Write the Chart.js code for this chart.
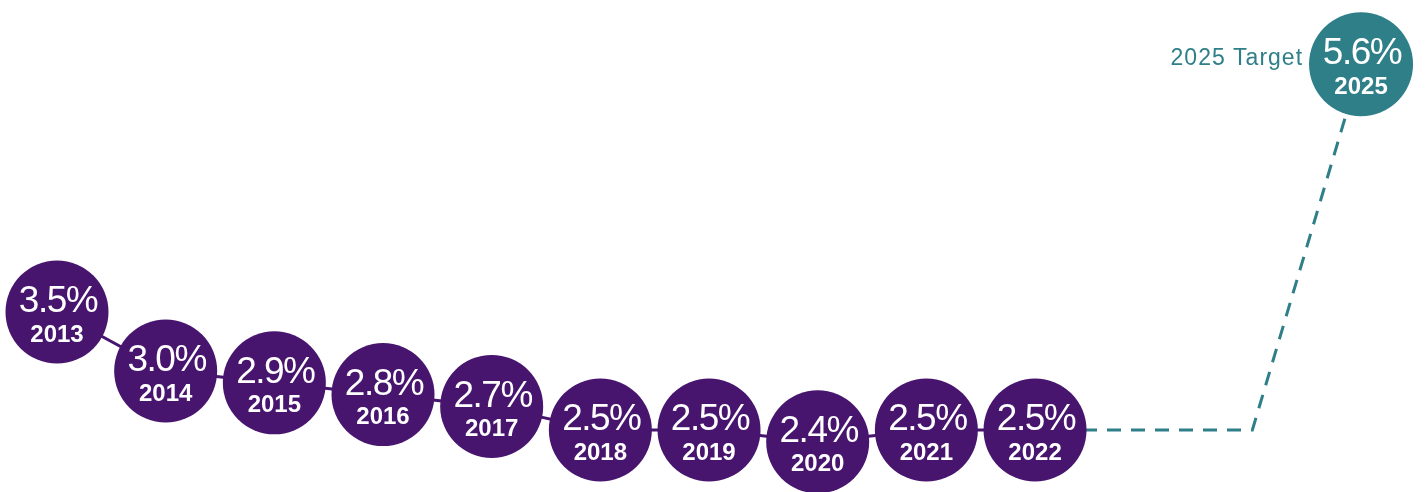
<!DOCTYPE html>
<html>
<head>
<meta charset="utf-8">
<script src="https://cdn.jsdelivr.net/npm/chart.js@4"></script>
<style>
  html, body { margin: 0; padding: 0; background: #ffffff; overflow: hidden; }
  #wrap { width: 1426px; height: 492px; position: relative; }
  #c { width: 1426px; height: 492px; display: block; }
</style>
</head>
<body>
<div id="wrap"><canvas id="c" width="1426" height="492"></canvas></div>
<script>
// ---- data ----
const years = [2013, 2014, 2015, 2016, 2017, 2018, 2019, 2020, 2021, 2022];
const shares = [3.5, 3.0, 2.9, 2.8, 2.7, 2.5, 2.5, 2.4, 2.5, 2.5];
const targetYear = 2025;
const targetShare = 5.6;
const targetLabel = '2025 Target';
// path of the dashed projection line: last actual -> corner -> target
const targetPathYears = [2022, 2024, 2025];
const targetPathShares = [2.5, 2.5, 5.6];

const PURPLE = '#47146e';
const TEAL = '#2f7f89';

const actualPts = years.map((y, i) => ({ x: y, y: shares[i] }));
const pathPts = targetPathYears.map((y, i) => ({ x: y, y: targetPathShares[i] }));
const targetPts = [{ x: targetYear, y: targetShare }];

const labelPlugin = {
  id: 'bubbleLabels',
  afterDatasetsDraw(chart) {
    const ctx = chart.ctx;
    ctx.save();
    ctx.textAlign = 'center';
    ctx.textBaseline = 'middle';
    ctx.fillStyle = '#ffffff';
    const drawBubble = (pt, share, year) => {
      ctx.font = '400 37px "Liberation Sans", Arial, sans-serif';
      ctx.letterSpacing = '-1.5px';
      ctx.fillText(share.toFixed(1) + '%', pt.x + 1, pt.y - 10);
      ctx.font = '700 24px "Liberation Sans", Arial, sans-serif';
      ctx.letterSpacing = '0px';
      ctx.fillText(String(year), pt.x, pt.y + 23);
    };
    const m0 = chart.getDatasetMeta(1);
    m0.data.forEach((el, i) => drawBubble(el, shares[i], years[i]));
    const m2 = chart.getDatasetMeta(2);
    const tp = m2.data[0];
    ctx.fillStyle = '#ffffff';
    drawBubble(tp, targetShare, targetYear);
    ctx.fillStyle = TEAL;
    ctx.textAlign = 'right';
    ctx.font = '400 23px "Liberation Sans", Arial, sans-serif';
    ctx.letterSpacing = '1px';
    ctx.fillText(targetLabel, tp.x - 58, tp.y - 6);
    ctx.restore();
  }
};

const pxPerYear = 108.67;
const xMin = 2013 - 57 / pxPerYear;
const xMax = 2013 + (1426 - 57) / pxPerYear;
const pxPerUnit = 118;
const yMax = 2.5 + 430 / pxPerUnit;
const yMin = 2.5 - (492 - 430) / pxPerUnit;

new Chart(document.getElementById('c'), {
  type: 'line',
  data: {
    datasets: [
      {
        data: pathPts,
        borderColor: TEAL,
        borderWidth: 3,
        borderDash: [14, 10],
        pointRadius: 0,
        fill: false,
        tension: 0,
        clip: false,
        order: 3
      },
      {
        data: actualPts,
        borderColor: PURPLE,
        borderWidth: 3,
        pointRadius: 51.5,
        pointHoverRadius: 51.5,
        pointBackgroundColor: PURPLE,
        pointBorderColor: PURPLE,
        pointBorderWidth: 0,
        fill: false,
        tension: 0,
        clip: false,
        order: 1
      },
      {
        data: targetPts,
        showLine: false,
        pointRadius: 52,
        pointHoverRadius: 52,
        pointBackgroundColor: TEAL,
        pointBorderColor: TEAL,
        pointBorderWidth: 0,
        clip: false,
        order: 2
      }
    ]
  },
  options: {
    responsive: false,
    devicePixelRatio: 1,
    animation: false,
    events: [],
    layout: { padding: 0, autoPadding: false },
    plugins: { legend: { display: false }, tooltip: { enabled: false } },
    scales: {
      x: { type: 'linear', min: xMin, max: xMax, display: false },
      y: { type: 'linear', min: yMin, max: yMax, display: false }
    }
  },
  plugins: [labelPlugin]
});
</script>
</body>
</html>
